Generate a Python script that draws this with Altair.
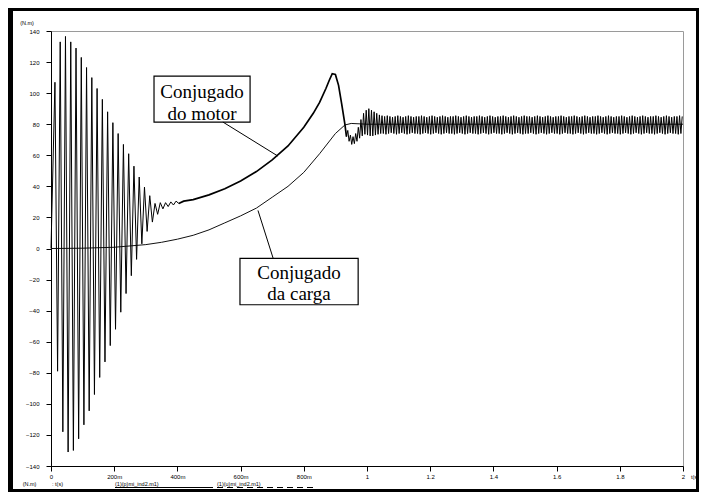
import altair as alt
import pandas as pd

# ---------------- data ----------------
HALF_PERIOD = 1 / 120          # 60 Hz supply (spacing of the start-up oscillation peaks)
FIRST_PEAK_T = 0.0125

# motor torque: decaying start-up oscillation (positive peaks / negative troughs)
osc_peaks = [107, 133, 136.5, 133, 129, 123, 116.5, 110, 103, 96, 88, 81,
             74, 67, 61, 53, 46, 39.5, 34, 29, 29.5, 29.5, 30, 30.5]
osc_troughs = [-79, -118, -131, -130, -122.5, -113.5, -104.5, -94, -83, -73,
               -62.5, -52, -41, -29, -17.5, -7, 3, 11, 17, 22, 25.5, 27, 28, 29]

# motor torque: acceleration and pull-out peak
rise_t = [0.42, 0.45, 0.5, 0.55, 0.6, 0.65, 0.7, 0.75, 0.8, 0.83, 0.85,
          0.87, 0.88, 0.89, 0.90, 0.91, 0.92, 0.93]
rise_v = [30.5, 31.5, 34.5, 38.5, 43.5, 49.5, 57, 66, 78, 87, 94,
          103, 108, 112.5, 112, 105, 93, 80]

# motor torque: ripple once the motor reaches speed (troughs / peaks)
RIPPLE_START = 0.935
RIPPLE_HALF = 1 / 240
ripple_lo = [72, 69, 67, 67.5, 69, 71, 72.5, 73.5, 73, 72.5, 72.5, 73, 73.5, 74, 74, 73.5,
             74, 74.5, 74, 73.5, 74, 74.5, 74, 73.5, 74, 74.5, 74, 74, 73.5, 74, 74.5, 74,
             73.5, 74, 74.5, 74, 73.5, 74, 74.5, 74, 74, 73.5, 74, 74.5, 74, 73.5, 74, 74.5,
             74, 74, 73.5, 74, 74.5, 74, 73.5, 74, 74.5, 74, 74, 73.5, 74, 74.5, 74, 73.5,
             74, 74.5, 74, 73.5, 74, 74, 74.5, 74, 73.5, 74, 74.5, 74, 73.5, 74, 74.5, 74,
             74, 73.5, 74, 74.5, 74, 74, 73.5, 74, 74.5, 74, 73.5, 74, 74.5, 74, 74, 73.5,
             74, 74.5, 74, 73.5, 74, 74.5, 74, 74, 73.5, 74, 74.5, 74, 73.5, 74, 74.5, 74,
             73.5, 74, 74.5, 74, 74, 73.5, 74, 74.5, 74, 73.5, 74, 74.5, 74, 74, 73.5, 74]
ripple_hi = [76, 73, 72, 74, 78, 83, 87, 89, 90, 89, 88, 87, 86, 85.5, 85, 85.5,
             85, 84.5, 85, 85.5, 85, 84.5, 85, 85.5, 85, 84.5, 85, 85, 85.5, 85, 84.5, 85,
             85.5, 85, 84.5, 85, 85.5, 85, 84.5, 85, 85, 85.5, 85, 84.5, 85, 85.5, 85, 84.5,
             85, 85, 85.5, 85, 84.5, 85, 85.5, 85, 84.5, 85, 85, 85.5, 85, 84.5, 85, 85.5,
             85, 84.5, 85, 85.5, 85, 85, 84.5, 85, 85.5, 85, 84.5, 85, 85.5, 85, 84.5, 85,
             85, 85.5, 85, 84.5, 85, 85, 85.5, 85, 84.5, 85, 85.5, 85, 84.5, 85, 85, 85.5,
             85, 84.5, 85, 85.5, 85, 84.5, 85, 85, 85.5, 85, 84.5, 85, 85.5, 85, 84.5, 85,
             85.5, 85, 84.5, 85, 85, 85.5, 85, 84.5, 85, 85.5, 85, 84.5, 85, 85, 85.5, 85]

# load torque
load_t = [0, 0.1, 0.2, 0.3, 0.35, 0.4, 0.45, 0.5, 0.55, 0.6, 0.65, 0.7,
          0.75, 0.8, 0.85, 0.9, 0.93, 0.95, 1.0, 2.0]
load_v = [0, 0.2, 0.8, 2.5, 4, 6, 8.5, 12, 16.5, 21, 26, 33,
          40, 49, 61, 74, 79.5, 80.5, 80, 80]

x_ticks = [0, 0.2, 0.4, 0.6, 0.8, 1, 1.2, 1.4, 1.6, 1.8, 2]
y_ticks = [-140, -120, -100, -80, -60, -40, -20, 0, 20, 40, 60, 80, 100, 120, 140]

box_labels = [["Conjugado", "do motor"], ["Conjugado", "da carga"]]
legend_texts = ["(N.m)", ": t(s)", "(1)(p)mi_ind2.m1)", "(1)(u)mi_ind2.m1)"]

# ---------------- build tables ----------------
ot, ov = [0.0], [0.0]
for k, (p, q) in enumerate(zip(osc_peaks, osc_troughs)):
    ot += [FIRST_PEAK_T + 2 * k * HALF_PERIOD, FIRST_PEAK_T + (2 * k + 1) * HALF_PERIOD]
    ov += [p, q]
rt, rv = [], []
for k, (lo, hi) in enumerate(zip(ripple_lo, ripple_hi)):
    rt += [RIPPLE_START + 2 * k * RIPPLE_HALF, RIPPLE_START + (2 * k + 1) * RIPPLE_HALF]
    rv += [lo, hi]

osc_df = pd.DataFrame({"t": ot, "v": ov})
smooth_df = pd.DataFrame({"t": [ot[-1]] + rise_t + [rt[0]], "v": [ov[-1]] + rise_v + [rv[0]]})
ripple_df = pd.DataFrame({"t": rt, "v": rv})
load_df = pd.DataFrame({"t": load_t, "v": load_v})

boxes_df = pd.DataFrame({
    "x": [0.326, 0.598], "x2": [0.630, 0.972],
    "y": [111.0, -6.3], "y2": [81.4, -36.2],
})
texts_df = pd.DataFrame({
    "x": [0.478, 0.478, 0.785, 0.785],
    "y": [97.0, 83.0, -19.8, -33.3],
    "text": [box_labels[0][0], box_labels[0][1], box_labels[1][0], box_labels[1][1]],
})
pointers_df = pd.DataFrame({
    "x": [0.544, 0.703], "x2": [0.718, 0.655],
    "y": [81.4, -6.3], "y2": [59.5, 24.5],
})

xs = alt.Scale(domain=[0, 2], nice=False, zero=False)
ys = alt.Scale(domain=[-140, 140], nice=False, zero=False)

x_axis = alt.Axis(values=x_ticks, title=None, grid=False, tickSize=5,
                  labelPadding=2, labelFontSize=6, labelFlush=False, labelOverlap=False,
                  labelExpr="datum.value > 0 && datum.value < 0.9 ? format(datum.value*1000, 'd') + 'm' : format(datum.value, '~g')")
y_axis = alt.Axis(values=y_ticks, title=None, grid=False, tickSize=5,
                  labelPadding=7, labelFontSize=6, labelOverlap=False)


def X(f="t"):
    return alt.X(f"{f}:Q", scale=xs, axis=x_axis)


def Y(f="v"):
    return alt.Y(f"{f}:Q", scale=ys, axis=y_axis)


def line_part(df, w, color="black"):
    return alt.Chart(df).mark_line(color=color, strokeWidth=w).encode(x=X(), y=Y())


load = line_part(load_df, 1, "#111111")
osc = line_part(osc_df, 1)
smooth = line_part(smooth_df, 1.7)
ripple = line_part(ripple_df, 1)

boxes = alt.Chart(boxes_df).mark_rect(fill="white", stroke="black", strokeWidth=1.2).encode(
    x=X("x"), x2="x2:Q", y=Y("y"), y2="y2:Q")
pointers = alt.Chart(pointers_df).mark_rule(color="black", strokeWidth=1).encode(
    x=X("x"), x2="x2:Q", y=Y("y"), y2="y2:Q")
texts = alt.Chart(texts_df).mark_text(font="Liberation Serif, Times New Roman, serif",
                                      fontSize=19, align="center",
                                      baseline="alphabetic", color="black").encode(
    x=X("x"), y=Y("y"), text="text:N")

one = pd.DataFrame({"k": [0]})


def prule(x, x2, y, y2, w, dash=None):
    kw = {"strokeDash": dash} if dash else {}
    return alt.Chart(one).mark_rule(color="black", strokeWidth=w, **kw).encode(
        x=alt.value(x), x2=alt.value(x2), y=alt.value(y), y2=alt.value(y2))


def ptext(s, x, y, align="left", size=5.5):
    return alt.Chart(one).mark_text(text=s, align=align, baseline="middle", fontSize=size,
                                    font="Liberation Sans", color="black").encode(
        x=alt.value(x), y=alt.value(y))


frame = [
    prule(-40.5, -40.5, -23, 461, 5),
    prule(-43, 648, -21.5, -21.5, 3),
    prule(646.5, 646.5, -23, 461, 3),
    prule(-43, 648, 459.5, 459.5, 3),
]
extras = [
    ptext(legend_texts[0], -24, -8, "center"),
    ptext(legend_texts[0], -21.5, 453, "center"),
    ptext(legend_texts[1], 1, 453),
    ptext(legend_texts[2], 64, 453),
    ptext(legend_texts[3], 166, 453),
    prule(64, 162, 456.5, 456.5, 1),
    prule(166, 264, 456.5, 456.5, 1, [6, 4]),
    ptext("t(s)", 640, 446),
]

chart = alt.layer(load, osc, smooth, ripple, boxes, pointers, texts, *frame, *extras).properties(
    width=632, height=435,
    padding={"left": 43, "top": 23, "right": 16, "bottom": 26},
    autosize=alt.AutoSizeParams(type="none"),
    background="white",
).configure_view(stroke="#9a9a9a", strokeWidth=1).configure_axis(
    domainColor="black", tickColor="black", labelColor="black", domainWidth=1,
    labelFont="Liberation Sans",
)

chart.save("out.html", embed_options={"renderer": "svg", "actions": False})
